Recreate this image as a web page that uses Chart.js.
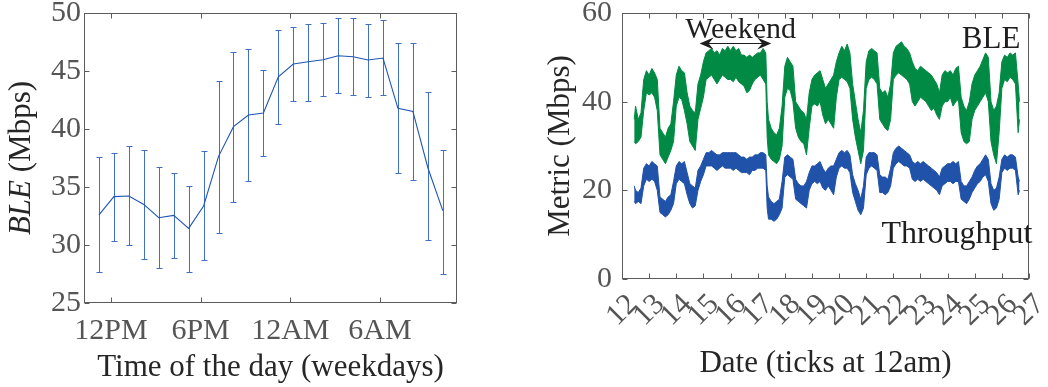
<!DOCTYPE html>
<html><head><meta charset="utf-8">
<script src="https://cdn.jsdelivr.net/npm/chart.js@4"></script>
<style>
html,body{margin:0;padding:0;background:#fff;width:1048px;height:387px;overflow:hidden}
#c1{position:absolute;left:0;top:0}
#c2{position:absolute;left:530px;top:0}
</style></head><body>
<canvas id="c1" width="470" height="387"></canvas>
<canvas id="c2" width="518" height="387"></canvas>
<script>
// ---------- Left chart data ----------
const hourOfDay = [11.2,12.2,13.2,14.2,15.2,16.2,17.2,18.2,19.2,20.2,21.2,22.2,23.2,24.2,25.2,26.2,27.2,28.2,29.2,30.2,31.2,32.2,33.2,34.2];
const bleMean  = [32.6,34.17,34.22,33.5,32.35,32.55,31.43,33.36,37.64,40.2,41.2,41.38,44.5,45.6,45.8,45.97,46.32,46.23,45.95,46.12,41.78,41.52,36.66,32.96];
const bleUpper = [37.55,37.96,38.5,38.16,36.7,36.18,35.09,38.1,44.16,46.6,46.9,45.05,48.5,48.76,49.08,49.16,49.54,49.57,49.08,49.36,47.38,47.41,43.16,38.22];
const bleLower = [27.67,30.37,30.0,28.8,27.99,28.9,27.64,28.71,31.06,33.7,35.48,37.64,40.4,42.38,42.44,42.84,43.1,42.9,42.78,42.9,36.18,35.6,30.43,27.5];
const hourTicks = [12,18,24,30];
const hourTickLabels = ['12PM','6PM','12AM','6AM'];
const bleTicks = [25,30,35,40,45,50];

// ---------- Right chart data (envelopes of the noisy traces) ----------
const dateTime = [12.45,12.5,12.6,12.7,12.8,12.9,13.0,13.1,13.2,13.3,13.4,13.5,13.6,13.7,13.8,13.9,14.0,14.1,14.2,14.3,14.4,14.5,14.6,14.7,14.8,14.9,15.0,15.1,15.2,15.3,15.4,15.5,15.6,15.7,15.8,15.9,16.0,16.1,16.2,16.3,16.4,16.5,16.6,16.7,16.8,16.9,17.0,17.1,17.2,17.3,17.35,17.4,17.5,17.6,17.7,17.8,17.9,18.0,18.1,18.2,18.3,18.4,18.5,18.6,18.7,18.8,18.9,19.0,19.1,19.2,19.3,19.4,19.5,19.6,19.7,19.8,19.9,20.0,20.1,20.2,20.3,20.4,20.5,20.6,20.7,20.8,20.9,21.0,21.1,21.2,21.3,21.4,21.5,21.6,21.7,21.8,21.9,22.0,22.1,22.2,22.3,22.4,22.5,22.6,22.7,22.8,22.9,23.0,23.1,23.2,23.3,23.4,23.5,23.6,23.7,23.8,23.9,24.0,24.1,24.2,24.3,24.4,24.5,24.6,24.7,24.8,24.9,25.0,25.1,25.2,25.3,25.4,25.5,25.6,25.7,25.8,25.9,26.0,26.1,26.2,26.3,26.4,26.5,26.6,26.65];
const bleHigh = [36,39,36,37.5,45,47,46,47.5,46.5,45,34,33,32,34,35,40,46,48,47,46.5,42,39,38,37.5,44,46,49,51,51.5,52,51,51.5,50.5,52,51.5,52.5,51.5,52.5,51.5,52,50.5,50.5,50,50.5,50,50.5,51,51,52,51,40,36,34,33,32.5,34,39,48,50,49,48,40,39,38,37.5,36,42,45,46,46.5,47,45,43,44,45,46,49,51,52.5,51.5,53,51,44,40,36,33,38,49,51.5,52,51.5,51,43,42,42.5,41,44,51,52.5,53,53.5,52.5,52,51,49,47.5,47,48,47.5,47,46.5,46,45,44,42,46,47,46.5,47,46,47.5,48,41,39,38,40,44,46,47,48,49.5,51,50,40,38,39,42,49,50.5,50,51,50.5,51,44,40];
const bleLow  = [31,30.5,31,32,38,42,41.5,42,41,38,28,27,26,27.5,29,31,39,41,40.5,38,35,31,30,29,36,38.5,41,45,45.5,46,45,44,45,46,45.5,45,45,44.5,45.5,44.5,44,43.5,42,42.5,44,45,45.5,46,45,44,32,28,27,26.5,26,27,30,41,43,42.5,40,34,32,31,30.5,28,34,39,39.5,39,40,37,35,36,35,34,41,45,45.5,45,44.5,43,36,32,29,26,29,43,45,45.5,45,44,36,35,34,33.5,36,45,46,46.5,46,45.5,45,44,40,39,40,41,40.5,40,39,38,38.5,37,36,39,40,40,41,39,40,40.5,33,31,30.5,31,36,38,39,40,41,42,40,31,28,26,33,43,45,44.5,45.5,45,44,33,36];
const tputHigh = [21,20,19.5,20.5,25,26,25.5,26.5,26,25.5,18.5,18,17.5,18.5,19,22,25.5,26.5,26,26.5,24,21.5,21,20.5,24.5,25.5,27,28.5,28.5,29,28.5,28,28,28.5,28.5,28.5,28.5,28.5,28.5,28,27.5,27.5,27,27.5,27.5,28,28,28.5,28.5,28,21,18.5,17.5,17,17.5,18,22,27.5,28,27.5,27,22.5,21.5,21,21,22,24,25.5,25.5,26,26.5,25,24,25,25.5,25.5,27,28.5,29,28.5,29,28,23.5,21.5,20,18,21,27.5,28.5,28.5,28.5,28,23.5,23,23,22.5,25,28.5,29.5,30,29.5,29,28.5,28,26.5,26,26.5,26,26.5,26,25.5,25,24.5,24,23,25,25.5,26,26,26.5,26,26.5,22,21,21,22,23,24.5,25.5,26,27,28,27,21.5,20,20.5,23,27,28,27.5,28,28,27.5,23,22];
const tputLow  = [17.5,17,17.5,17,21,22.5,22,22.5,22,20,15,14.5,14,14.5,15.5,17,21.5,22.5,22,21.5,19,17,16,16.5,20,22,23.5,25.5,25.5,25.5,25,24.5,25,25.5,25,25,25,24.5,25,24.5,24,24,24,23.5,24.5,24.5,25,25,25,24.5,16,13.5,13.5,13,13.5,14.5,16,23,23.5,23,22.5,18,17.5,17,16.5,16,20,21.5,22,21.5,22,20.5,20,21,20,19,23,25,25.5,25,25,24,19.5,17.5,15.5,14.5,16,23.5,25,25.5,25,24.5,19.5,19.5,19,19.5,21,25,26,26.5,26,25.5,25.5,25,22.5,22,22.5,22,22.5,22,21.5,21,20.5,20,19,21,21.5,22,22,21.5,22,22,18,17.5,17,18,19.5,20.5,21.5,22,23,23.5,22,17,15.5,16,18,24,25,24.5,25,25,24.5,19,20];
const dateTicks = [12,13,14,15,16,17,18,19,20,21,22,23,24,25,26,27];
const metricTicks = [0,20,40,60];

// ---------- styles ----------
const FONT = "'Liberation Serif','DejaVu Serif',serif";
const TICK_COLOR = '#555555';
const TITLE_COLOR = '#262626';
const FRAME_COLOR = '#5c5c5c';
const LINE_BLUE = '#1f56b3';
const BAR_BLUE = '#3f70c4';
const GREEN = '#008a44';
const TBLUE = '#1f52a8';

Chart.defaults.font.family = FONT;
Chart.defaults.animation = false;

function fixAxis(prop, size) {
  return s => { s[prop] = size; s.paddingTop = 0; s.paddingBottom = 0; s.paddingLeft = 0; s.paddingRight = 0; };
}

const framePlugin = {
  id: 'frame',
  afterDraw(chart) {
    const {ctx, chartArea: a, scales: {x, y}} = chart;
    ctx.save();
    ctx.strokeStyle = FRAME_COLOR;
    ctx.lineWidth = 1;
    const L = Math.round(a.left) + 0.5, R = Math.round(a.right) - 0.5;
    const T = Math.round(a.top) + 0.5, B = Math.round(a.bottom) - 0.5;
    ctx.strokeRect(L, T, R - L, B - T);
    const len = 5;
    ctx.beginPath();
    x.ticks.forEach(t => {
      const px = Math.round(x.getPixelForValue(t.value)) + 0.5;
      ctx.moveTo(px, B); ctx.lineTo(px, B - len);
      ctx.moveTo(px, T); ctx.lineTo(px, T + len);
    });
    y.ticks.forEach(t => {
      const py = Math.round(y.getPixelForValue(t.value)) + 0.5;
      ctx.moveTo(L, py); ctx.lineTo(L + len, py);
      ctx.moveTo(R, py); ctx.lineTo(R - len, py);
    });
    ctx.stroke();
    ctx.restore();
  }
};

// Error bars for the left chart
const errorBarPlugin = {
  id: 'errbars',
  beforeDatasetsDraw(chart) {
    const {ctx, scales: {x, y}} = chart;
    ctx.save();
    ctx.strokeStyle = BAR_BLUE;
    ctx.lineWidth = 1;
    ctx.beginPath();
    hourOfDay.forEach((h, i) => {
      const px = Math.round(x.getPixelForValue(h)) + 0.5;
      const pu = Math.round(y.getPixelForValue(bleUpper[i])) + 0.5;
      const pl = Math.round(y.getPixelForValue(bleLower[i])) + 0.5;
      ctx.moveTo(px, pu); ctx.lineTo(px, pl);
      ctx.moveTo(px - 3, pu); ctx.lineTo(px + 3, pu);
      ctx.moveTo(px - 3, pl); ctx.lineTo(px + 3, pl);
    });
    ctx.stroke();
    ctx.restore();
  }
};

// Left y title: italic BLE + regular (Mbps)
const leftYTitlePlugin = {
  id: 'lytitle',
  afterDraw(chart) {
    const {ctx, chartArea: a} = chart;
    const fItal = "italic 31px " + FONT, fReg = "31px " + FONT;
    const part1 = 'BLE', part2 = ' (Mbps)';
    ctx.save();
    ctx.font = fItal; const w1 = ctx.measureText(part1).width;
    ctx.font = fReg; const w2 = ctx.measureText(part2).width;
    const cx = 22, cy = (a.top + a.bottom) / 2;
    ctx.translate(cx, cy);
    ctx.rotate(-Math.PI / 2);
    ctx.fillStyle = TITLE_COLOR;
    ctx.textBaseline = 'middle';
    ctx.textAlign = 'left';
    const start = -(w1 + w2) / 2;
    ctx.font = fItal; ctx.fillText(part1, start, 0);
    ctx.font = fReg; ctx.fillText(part2, start + w1, 0);
    ctx.restore();
  }
};

// Right chart annotations
const weekendArrow = {from: 14.86, to: 17.5, level: 53.3};
const weekendLabel = {text: 'Weekend', day: 16.37, value: 54.4};
const bleLabel = {text: 'BLE', day: 26.68, value: 52.2};
const tputLabel = {text: 'Throughput', day: 21.56, value: 8.1};

const annotationPlugin = {
  id: 'annot',
  afterDraw(chart) {
    const {ctx, scales: {x, y}} = chart;
    ctx.save();
    ctx.fillStyle = '#1e1e1e';
    ctx.strokeStyle = '#1e1e1e';
    ctx.font = "30px " + FONT;
    ctx.textBaseline = 'alphabetic';
    ctx.textAlign = 'center';
    ctx.fillText(weekendLabel.text, x.getPixelForValue(weekendLabel.day), y.getPixelForValue(weekendLabel.value));
    ctx.font = "31px " + FONT;
    ctx.textAlign = 'right';
    ctx.fillText(bleLabel.text, x.getPixelForValue(bleLabel.day), y.getPixelForValue(bleLabel.value));
    ctx.font = "32px " + FONT;
    ctx.textAlign = 'left';
    ctx.fillText(tputLabel.text, x.getPixelForValue(tputLabel.day), y.getPixelForValue(tputLabel.value));
    // double arrow
    const x1 = x.getPixelForValue(weekendArrow.from), x2 = x.getPixelForValue(weekendArrow.to);
    const ay = Math.round(y.getPixelForValue(weekendArrow.level)) + 0.5;
    ctx.lineWidth = 1.2;
    ctx.beginPath(); ctx.moveTo(x1 + 4, ay); ctx.lineTo(x2 - 4, ay); ctx.stroke();
    const head = (tipX, dir) => {
      ctx.beginPath();
      ctx.moveTo(tipX, ay);
      ctx.lineTo(tipX + dir * 14, ay - 6);
      ctx.lineTo(tipX + dir * 9, ay);
      ctx.lineTo(tipX + dir * 14, ay + 6);
      ctx.closePath();
      ctx.fill();
    };
    head(x1, 1); head(x2, -1);
    ctx.restore();
  }
};

// ---------- Left chart ----------
new Chart(document.getElementById('c1'), {
  type: 'line',
  data: {
    datasets: [{
      data: hourOfDay.map((h, i) => ({x: h, y: bleMean[i]})),
      borderColor: LINE_BLUE, borderWidth: 1.1, pointRadius: 0, fill: false, tension: 0
    }]
  },
  options: {
    responsive: false, devicePixelRatio: 1,
    layout: {padding: {top: 13, right: 13, left: 0, bottom: 0}},
    plugins: {legend: {display: false}, tooltip: {enabled: false}},
    scales: {
      x: {
        type: 'linear', min: 10.2, max: 35.15,
        grid: {display: false, drawTicks: false}, border: {display: false},
        afterBuildTicks: s => { s.ticks = hourTicks.map(v => ({value: v})); },
        ticks: {
          callback: (v) => hourTickLabels[hourTicks.indexOf(v)],
          font: {size: 30}, color: TICK_COLOR, padding: 10, maxRotation: 0, autoSkip: false
        },
        title: {display: true, text: 'Time of the day (weekdays)', font: {size: 31}, color: TITLE_COLOR, padding: {top: 0, bottom: 1}},
        afterFit: fixAxis('height', 84)
      },
      y: {
        type: 'linear', min: 25, max: 50,
        grid: {display: false, drawTicks: false}, border: {display: false},
        afterBuildTicks: s => { s.ticks = bleTicks.map(v => ({value: v})); },
        ticks: {font: {size: 30}, color: TICK_COLOR, padding: 3},
        afterFit: fixAxis('width', 84)
      }
    }
  },
  plugins: [errorBarPlugin, framePlugin, leftYTitlePlugin]
});

// ---------- Right chart ----------
const band = (hi, lo, color) => ([
  {data: dateTime.map((t, i) => ({x: t, y: hi[i]})), borderColor: color, backgroundColor: color, borderWidth: 1, pointRadius: 0, fill: false, tension: 0},
  {data: dateTime.map((t, i) => ({x: t, y: lo[i]})), borderColor: color, backgroundColor: color, borderWidth: 1, pointRadius: 0, fill: '-1', tension: 0}
]);

new Chart(document.getElementById('c2'), {
  type: 'line',
  data: {datasets: [...band(bleHigh, bleLow, GREEN), ...band(tputHigh, tputLow, TBLUE)]},
  options: {
    responsive: false, devicePixelRatio: 1,
    layout: {padding: {top: 13, right: 19, left: 0, bottom: 0}},
    plugins: {legend: {display: false}, tooltip: {enabled: false}, filler: {propagate: false}},
    scales: {
      x: {
        type: 'linear', min: 12, max: 27,
        grid: {display: false, drawTicks: false}, border: {display: false},
        afterBuildTicks: s => { s.ticks = dateTicks.map(v => ({value: v})); },
        ticks: {font: {size: 30}, color: TICK_COLOR, padding: 8, labelOffset: 11, minRotation: 45, maxRotation: 45, autoSkip: false},
        title: {display: true, text: 'Date (ticks at 12am)', font: {size: 31}, color: TITLE_COLOR, padding: {top: 0, bottom: 5}},
        afterFit: fixAxis('height', 108)
      },
      y: {
        type: 'linear', min: 0, max: 60,
        grid: {display: false, drawTicks: false}, border: {display: false},
        afterBuildTicks: s => { s.ticks = metricTicks.map(v => ({value: v})); },
        ticks: {font: {size: 30}, color: TICK_COLOR, padding: 10},
        title: {display: true, text: 'Metric (Mbps)', font: {size: 31}, color: TITLE_COLOR, padding: {top: 12, bottom: 0}},
        afterFit: fixAxis('width', 92)
      }
    }
  },
  plugins: [framePlugin, annotationPlugin]
});
</script>
</body></html>
